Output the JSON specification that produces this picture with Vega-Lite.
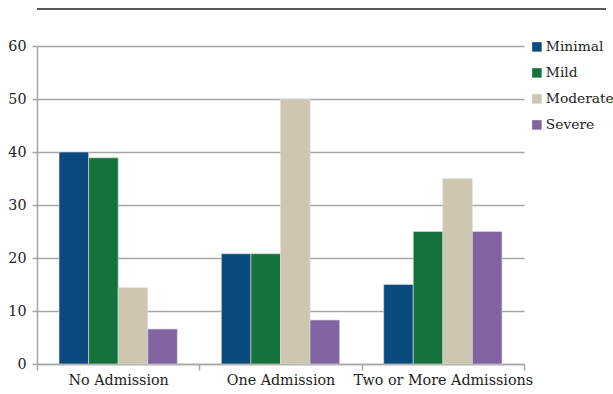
{
  "$schema": "https://vega.github.io/schema/vega-lite/v6.json",
  "padding": {"left": 7, "top": 8, "right": 8, "bottom": 5},
  "background": "white",
  "spacing": 29,
  "align": "none",
  "resolve": {"scale": {"color": "independent", "y": "independent", "x": "independent"}, "legend": {"color": "independent"}},
  "config": {
    "font": "DejaVu Serif",
    "axis": {"labelFont": "DejaVu Serif", "labelFontSize": 14.3, "labelColor": "#222222", "labelLimit": 400},
    "legend": {"labelFont": "DejaVu Serif", "labelFontSize": 13.8, "labelColor": "#222222", "labelLimit": 400}
  },
  "vconcat": [
    {
      "width": 569,
      "height": 1,
      "view": {"stroke": null},
      "data": {"values": [{"k": 0}]},
      "mark": {"type": "rule", "color": "#222222", "strokeWidth": 1.3},
      "encoding": {
        "y": {"field": "k", "type": "quantitative", "scale": {"domain": [0, 1]}, "axis": null}
      }
    },
    {
      "width": 487,
      "height": 318,
      "view": {"stroke": null},
      "data": {
        "values": [
          {"group": "No Admission", "severity": "Minimal", "value": 40},
          {"group": "No Admission", "severity": "Mild", "value": 38.9},
          {"group": "No Admission", "severity": "Moderate", "value": 14.4},
          {"group": "No Admission", "severity": "Severe", "value": 6.6},
          {"group": "One Admission", "severity": "Minimal", "value": 20.8},
          {"group": "One Admission", "severity": "Mild", "value": 20.8},
          {"group": "One Admission", "severity": "Moderate", "value": 50},
          {"group": "One Admission", "severity": "Severe", "value": 8.3},
          {"group": "Two or More Admissions", "severity": "Minimal", "value": 15},
          {"group": "Two or More Admissions", "severity": "Mild", "value": 25},
          {"group": "Two or More Admissions", "severity": "Moderate", "value": 35},
          {"group": "Two or More Admissions", "severity": "Severe", "value": 25}
        ]
      },
      "mark": {"type": "bar", "stroke": "#dddddd", "strokeWidth": 0.6},
      "encoding": {
        "x": {
          "field": "group",
          "type": "nominal",
          "sort": null,
          "title": null,
          "scale": {"paddingInner": 0, "paddingOuter": 0},
          "axis": {
            "labelAngle": 0,
            "labelLimit": 400,
            "tickBand": "extent",
            "domainColor": "#a6a6a6",
            "domainWidth": 1.5,
            "tickColor": "#a6a6a6",
            "tickWidth": 1.5,
            "tickSize": 6,
            "labelPadding": 3,
            "grid": false
          }
        },
        "xOffset": {
          "field": "severity",
          "type": "nominal",
          "sort": ["Minimal", "Mild", "Moderate", "Severe"],
          "scale": {"paddingInner": 0, "paddingOuter": 0.745}
        },
        "y": {
          "field": "value",
          "type": "quantitative",
          "title": null,
          "scale": {"domain": [0, 60], "nice": false},
          "axis": {
            "values": [0, 10, 20, 30, 40, 50, 60],
            "grid": true,
            "gridColor": "#a6a6a6",
            "gridWidth": 1.5,
            "domainColor": "#a6a6a6",
            "domainWidth": 1.5,
            "tickColor": "#a6a6a6",
            "tickWidth": 1.5,
            "tickSize": 5,
            "labelPadding": 6
          }
        },
        "color": {
          "field": "severity",
          "type": "nominal",
          "sort": ["Minimal", "Mild", "Moderate", "Severe"],
          "scale": {
            "domain": ["Minimal", "Mild", "Moderate", "Severe"],
            "range": ["#0a4a7e", "#14733c", "#cdc6b0", "#8064a2"]
          },
          "legend": {
            "title": null,
            "orient": "none",
            "legendX": 493,
            "legendY": -6,
            "symbolType": "square",
            "symbolSize": 90,
            "symbolStrokeWidth": 0,
            "rowPadding": 11,
            "labelOffset": 2
          }
        }
      }
    }
  ]
}
